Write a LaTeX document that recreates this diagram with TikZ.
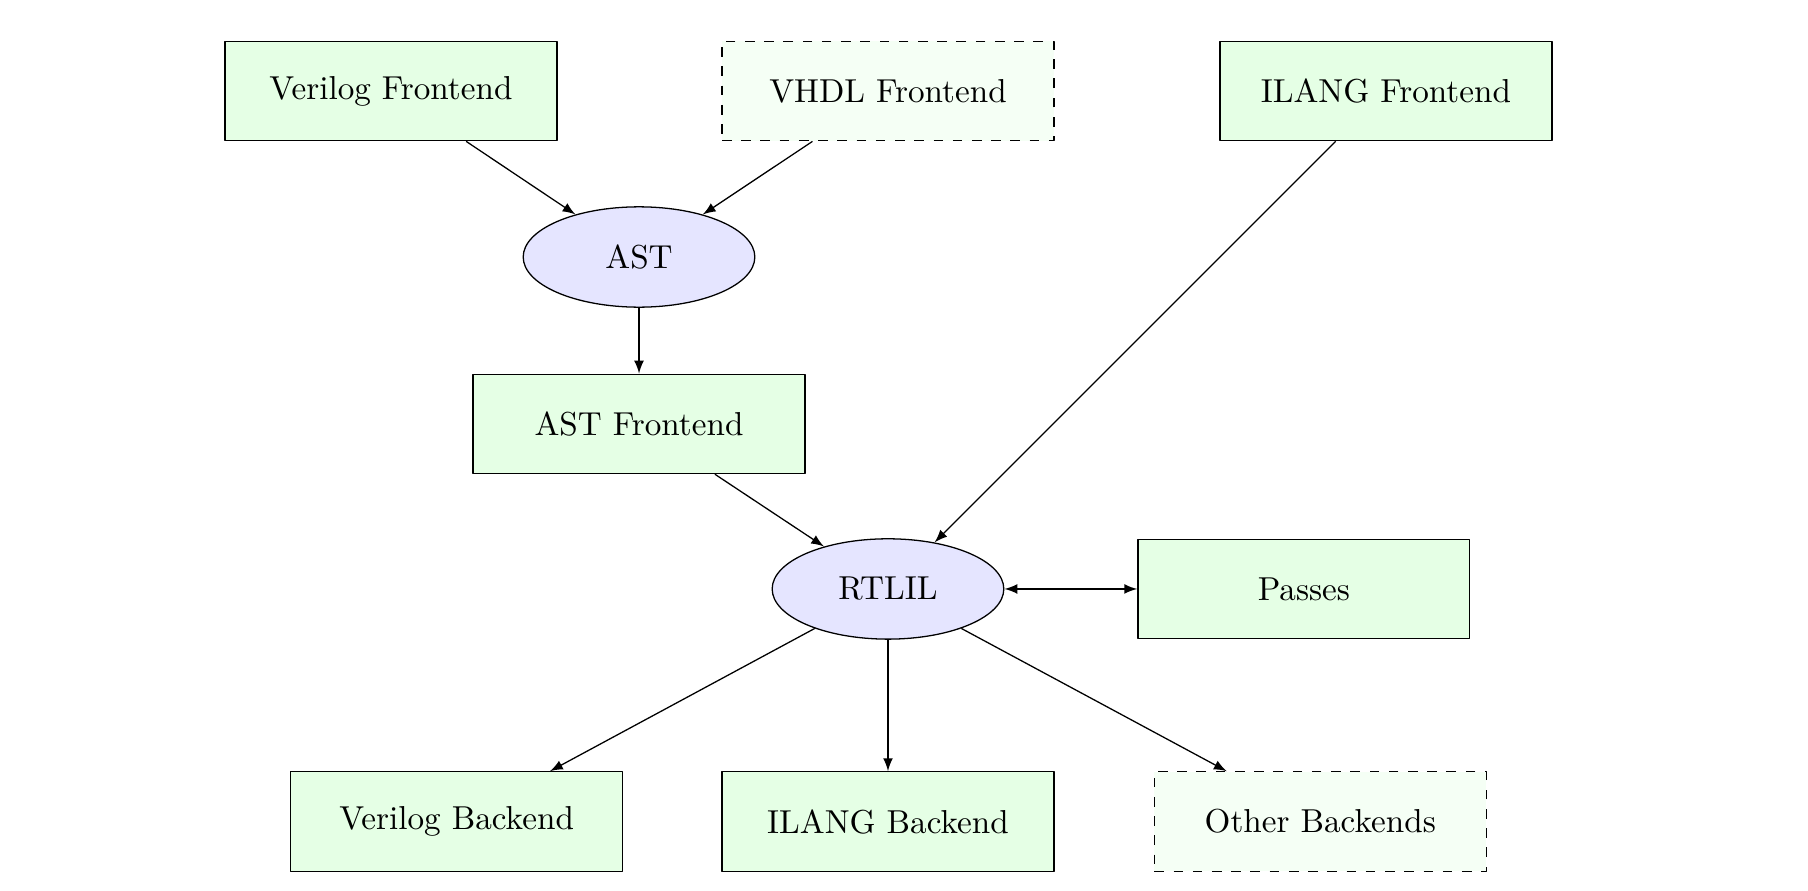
\documentclass[tikz,border=0pt]{standalone}
\usetikzlibrary{shapes.geometric}
\begin{document}
\begin{tikzpicture}[>=latex, line join=round, font=\fontsize{10.35}{12.4}\selectfont,
  proc/.style={draw, fill=green!10, minimum width=3.64cm, minimum height=1.09cm},
  optproc/.style={proc, dashed, fill=green!4},
  data/.style={draw, ellipse, fill=blue!10, minimum width=2.54cm, minimum height=1.1cm}]
\useasboundingbox (-9.737,-3.311) rectangle (10.088,6.458);
% frontends
\node[proc] (verilogfe) at (-5.45,5.46) {Verilog Frontend};
\node[optproc] (vhdlfe) at (0,5.46) {VHDL Frontend};
\node[proc] (ilangfe) at (5.46,5.46) {ILANG Frontend};
\node[data] (ast) at (-2.73,3.64) {AST};
\node[proc] (astfe) at (-2.73,1.81) {AST Frontend};
% core
\node[data] (rtlil) at (0,0) {RTLIL};
\node[proc] (passes) at (4.56,0) {Passes};
% backends
\node[proc] (verilogbe) at (-4.73,-2.55) {Verilog Backend};
\node[proc] (ilangbe) at (0,-2.55) {ILANG Backend};
\node[optproc] (otherbe) at (4.74,-2.55) {Other Backends};
\draw[->] (verilogfe) -- (ast);
\draw[->] (vhdlfe) -- (ast);
\draw[->] (ast) -- (astfe);
\draw[->] (astfe) -- (rtlil);
\draw[->] (ilangfe) -- (rtlil);
\draw[<->] (rtlil) -- (passes);
\foreach \b in {verilogbe,ilangbe,otherbe}{\draw[->] (rtlil) -- (\b);}
\end{tikzpicture}
\end{document}
